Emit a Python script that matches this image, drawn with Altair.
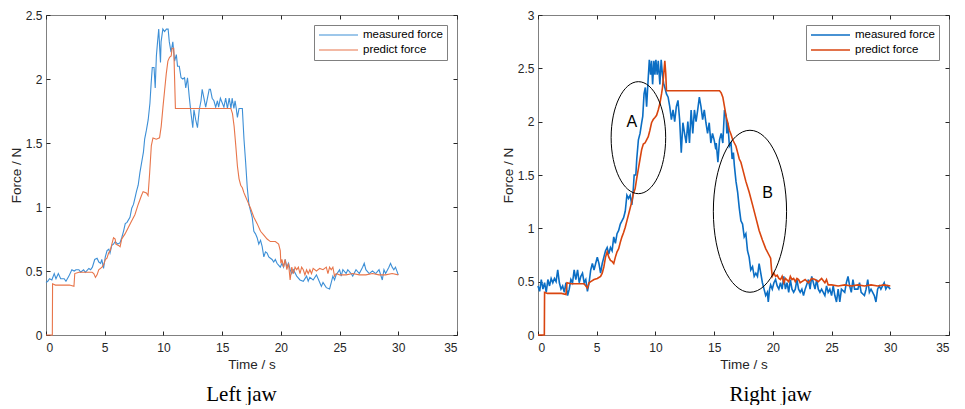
import altair as alt
import pandas as pd

X_TICKS = [0, 5, 10, 15, 20, 25, 30, 35]
Y_TICKS_LEFT = [0, 0.5, 1, 1.5, 2, 2.5]
Y_TICKS_RIGHT = [0, 0.5, 1, 1.5, 2, 2.5, 3]
SERIES = ["measured force", "predict force"]
PANEL_TITLES = ["Left jaw", "Right jaw"]

LEFT_MEASURED = [
    (0.0, 0.41), (0.15, 0.42), (0.3, 0.44), (0.5, 0.43), (0.7, 0.48), (0.85, 0.44), (1.05, 0.48),
    (1.25, 0.44), (1.55, 0.44), (1.7, 0.42), (1.95, 0.46), (2.2, 0.51), (2.4, 0.50), (2.55, 0.51),
    (2.8, 0.51), (2.95, 0.49), (3.2, 0.51), (3.35, 0.49), (3.65, 0.52), (3.8, 0.51), (3.95, 0.53),
    (4.15, 0.59), (4.35, 0.60), (4.5, 0.57), (4.65, 0.56), (4.75, 0.59), (4.9, 0.52), (5.05, 0.61),
    (5.2, 0.66), (5.35, 0.67), (5.45, 0.64), (5.6, 0.70), (5.75, 0.71), (5.9, 0.73), (6.1, 0.71),
    (6.3, 0.72), (6.45, 0.76), (6.6, 0.81), (6.75, 0.87), (6.9, 0.88), (7.15, 0.92), (7.3, 0.99),
    (7.45, 1.02), (7.6, 1.08), (7.7, 1.12), (7.85, 1.17), (8.0, 1.27), (8.15, 1.35), (8.3, 1.43),
    (8.4, 1.53), (8.55, 1.60), (8.7, 1.68), (8.85, 1.81), (8.95, 1.96), (9.05, 2.09), (9.2, 2.09),
    (9.3, 1.93), (9.4, 2.18), (9.5, 2.29), (9.6, 2.39), (9.7, 2.21), (9.75, 2.13), (9.8, 2.29),
    (9.95, 2.39), (10.1, 2.37), (10.25, 2.39), (10.4, 2.39), (10.5, 2.29), (10.65, 2.21), (10.8, 2.29),
    (10.95, 2.14), (11.1, 2.19), (11.2, 2.10), (11.35, 2.10), (11.5, 2.01), (11.65, 2.00), (11.8, 2.01),
    (11.9, 1.93), (12.05, 2.01), (12.2, 1.86), (12.35, 1.73), (12.5, 1.62), (12.6, 1.76), (12.75, 1.68),
    (12.9, 1.62), (13.05, 1.76), (13.2, 1.83), (13.3, 1.92), (13.45, 1.85), (13.6, 1.78), (13.75, 1.85),
    (13.9, 1.92), (14.0, 1.92), (14.15, 1.85), (14.3, 1.83), (14.45, 1.78), (14.6, 1.83), (14.7, 1.78),
    (14.85, 1.85), (15.15, 1.78), (15.3, 1.85), (15.45, 1.77), (15.6, 1.85), (15.75, 1.77), (15.85, 1.85),
    (16.0, 1.77), (16.1, 1.83), (16.2, 1.77), (16.3, 1.70), (16.44, 1.77), (16.72, 1.77), (16.86, 1.53),
    (17.0, 1.35), (17.14, 1.15), (17.28, 1.02), (17.42, 0.97), (17.56, 0.92), (17.7, 0.81), (17.84, 0.79),
    (17.98, 0.76), (18.12, 0.71), (18.27, 0.74), (18.41, 0.69), (18.55, 0.61), (18.69, 0.65), (18.83, 0.64),
    (18.97, 0.61), (19.11, 0.60), (19.25, 0.59), (19.39, 0.57), (19.53, 0.59), (19.67, 0.56), (19.95, 0.53),
    (20.09, 0.56), (20.23, 0.53), (20.37, 0.59), (20.51, 0.53), (20.65, 0.56), (20.79, 0.51), (20.93, 0.48),
    (21.07, 0.51), (21.35, 0.46), (21.63, 0.43), (21.91, 0.42), (22.19, 0.46), (22.33, 0.42), (22.47, 0.45),
    (22.75, 0.43), (23.03, 0.47), (23.31, 0.41), (23.45, 0.38), (23.59, 0.41), (23.87, 0.37), (24.15, 0.36),
    (24.29, 0.41), (24.43, 0.46), (24.57, 0.43), (24.71, 0.47), (25.0, 0.51), (25.14, 0.46), (25.28, 0.51),
    (25.56, 0.48), (25.7, 0.51), (25.98, 0.48), (26.12, 0.46), (26.4, 0.51), (26.68, 0.48), (26.96, 0.53),
    (27.1, 0.56), (27.24, 0.51), (27.52, 0.48), (27.8, 0.50), (28.08, 0.48), (28.36, 0.51), (28.64, 0.43),
    (28.78, 0.51), (28.92, 0.48), (29.2, 0.53), (29.34, 0.56), (29.48, 0.53), (29.62, 0.51), (29.76, 0.53),
    (30.0, 0.47),
]

LEFT_PREDICT = [
    (0.0, 0.0), (0.54, 0.0), (0.56, 0.40), (0.8, 0.39), (1.5, 0.39), (2.0, 0.39), (2.38, 0.38),
    (2.45, 0.48), (2.8, 0.49), (3.3, 0.49), (3.93, 0.49), (4.07, 0.48), (4.21, 0.45), (4.35, 0.47),
    (4.49, 0.51), (4.77, 0.53), (4.91, 0.55), (5.05, 0.59), (5.19, 0.60), (5.33, 0.64), (5.47, 0.66),
    (5.61, 0.71), (5.75, 0.76), (5.89, 0.75), (5.95, 0.71), (6.17, 0.70), (6.31, 0.69), (6.45, 0.75),
    (6.73, 0.79), (7.01, 0.84), (7.29, 0.89), (7.57, 0.94), (7.85, 1.02), (8.13, 1.09), (8.27, 1.12),
    (8.55, 1.11), (8.69, 1.09), (8.83, 1.27), (8.97, 1.48), (9.11, 1.54), (9.39, 1.53), (9.67, 1.54),
    (9.81, 1.63), (9.96, 1.78), (10.1, 1.91), (10.24, 2.04), (10.38, 2.14), (10.52, 2.17), (10.66, 2.18),
    (10.74, 2.24), (10.88, 2.24), (10.94, 2.04), (11.02, 1.77), (15.74, 1.77), (15.88, 1.73), (16.02, 1.63),
    (16.16, 1.48), (16.3, 1.32), (16.44, 1.22), (16.58, 1.17), (16.72, 1.15), (16.86, 1.11), (17.0, 1.08),
    (17.14, 1.05), (17.42, 0.99), (17.7, 0.92), (17.98, 0.87), (18.27, 0.81), (18.55, 0.78), (18.83, 0.75),
    (19.11, 0.73), (19.53, 0.73), (19.81, 0.71), (19.95, 0.66), (20.0, 0.56), (20.09, 0.59), (20.23, 0.53),
    (20.37, 0.59), (20.51, 0.51), (20.65, 0.56), (20.79, 0.43), (20.93, 0.53), (21.07, 0.48), (21.21, 0.53),
    (21.35, 0.51), (21.49, 0.53), (21.63, 0.48), (21.77, 0.53), (21.91, 0.51), (22.05, 0.47), (22.19, 0.51),
    (22.33, 0.48), (22.47, 0.51), (22.61, 0.48), (22.75, 0.52), (23.03, 0.50), (23.31, 0.52), (23.59, 0.51),
    (23.87, 0.53), (24.01, 0.48), (24.15, 0.53), (24.29, 0.51), (24.43, 0.53), (24.57, 0.46), (24.71, 0.48),
    (25.0, 0.47), (25.56, 0.47), (26.12, 0.48), (26.68, 0.47), (27.24, 0.47), (27.8, 0.48), (28.36, 0.47),
    (28.92, 0.47), (29.48, 0.48), (30.0, 0.47),
]

RIGHT_MEASURED = [
    (0.0, 0.46), (0.14, 0.41), (0.28, 0.52), (0.42, 0.43), (0.56, 0.49), (0.7, 0.40), (0.84, 0.52),
    (0.98, 0.46), (1.12, 0.53), (1.26, 0.49), (1.4, 0.53), (1.54, 0.50), (1.68, 0.61), (1.82, 0.49),
    (1.96, 0.43), (2.1, 0.46), (2.24, 0.40), (2.38, 0.49), (2.52, 0.37), (2.66, 0.43), (2.8, 0.52),
    (2.94, 0.49), (3.08, 0.61), (3.22, 0.52), (3.37, 0.61), (3.51, 0.49), (3.65, 0.55), (3.79, 0.58),
    (3.93, 0.49), (4.07, 0.52), (4.21, 0.41), (4.35, 0.49), (4.49, 0.61), (4.63, 0.67), (4.77, 0.61),
    (4.91, 0.67), (5.05, 0.73), (5.19, 0.67), (5.33, 0.58), (5.47, 0.67), (5.61, 0.73), (5.75, 0.79),
    (5.89, 0.82), (6.03, 0.76), (6.17, 0.82), (6.31, 0.79), (6.45, 0.92), (6.59, 0.86), (6.73, 0.95),
    (6.87, 0.98), (7.01, 1.04), (7.15, 1.07), (7.29, 1.10), (7.43, 1.16), (7.57, 1.31), (7.71, 1.28),
    (7.85, 1.31), (7.99, 1.22), (8.08, 1.31), (8.19, 1.50), (8.33, 1.50), (8.41, 1.65), (8.55, 1.83),
    (8.69, 1.89), (8.83, 1.99), (8.92, 2.05), (9.03, 2.26), (9.14, 2.32), (9.25, 2.14), (9.34, 2.32),
    (9.48, 2.58), (9.59, 2.44), (9.67, 2.57), (9.76, 2.35), (9.87, 2.57), (9.96, 2.44), (10.04, 2.58),
    (10.15, 2.44), (10.24, 2.57), (10.38, 2.35), (10.49, 2.58), (10.6, 2.44), (10.71, 2.35), (10.8, 2.32),
    (10.94, 2.26), (11.08, 2.23), (11.22, 2.14), (11.36, 2.02), (11.5, 2.11), (11.64, 2.00), (11.78, 2.14),
    (11.92, 2.20), (12.06, 2.02), (12.2, 1.71), (12.34, 1.99), (12.48, 1.89), (12.62, 1.80), (12.76, 2.00),
    (12.9, 1.80), (13.04, 2.11), (13.18, 1.89), (13.32, 2.11), (13.46, 2.00), (13.6, 2.11), (13.74, 2.23),
    (13.88, 2.14), (14.02, 2.02), (14.16, 2.11), (14.3, 1.99), (14.44, 1.89), (14.58, 1.99), (14.72, 1.80),
    (14.86, 1.89), (15.0, 1.83), (15.14, 1.74), (15.18, 1.80), (15.32, 1.62), (15.46, 1.83), (15.6, 1.89),
    (15.74, 1.80), (15.88, 2.11), (16.02, 2.05), (16.08, 1.89), (16.16, 1.99), (16.3, 1.77), (16.44, 1.80),
    (16.53, 1.65), (16.64, 1.71), (16.72, 1.59), (16.86, 1.44), (17.0, 1.34), (17.14, 1.19), (17.28, 1.07),
    (17.42, 1.04), (17.56, 0.92), (17.7, 0.95), (17.84, 0.79), (17.98, 0.73), (18.12, 0.61), (18.27, 0.64),
    (18.41, 0.55), (18.55, 0.58), (18.69, 0.55), (18.83, 0.67), (18.97, 0.58), (19.11, 0.49), (19.25, 0.43),
    (19.39, 0.37), (19.53, 0.40), (19.61, 0.31), (19.72, 0.43), (19.81, 0.47), (19.95, 0.43), (20.09, 0.49),
    (20.23, 0.52), (20.37, 0.46), (20.51, 0.43), (20.65, 0.49), (20.79, 0.43), (20.93, 0.55), (21.07, 0.43),
    (21.21, 0.49), (21.35, 0.40), (21.49, 0.52), (21.63, 0.43), (21.77, 0.40), (21.91, 0.43), (22.05, 0.52),
    (22.19, 0.43), (22.33, 0.40), (22.47, 0.43), (22.61, 0.37), (22.75, 0.43), (23.03, 0.52), (23.17, 0.43),
    (23.31, 0.55), (23.45, 0.49), (23.59, 0.43), (23.73, 0.52), (23.87, 0.43), (24.01, 0.40), (24.15, 0.43),
    (24.29, 0.40), (24.43, 0.37), (24.57, 0.46), (24.71, 0.40), (24.85, 0.43), (25.0, 0.37), (25.14, 0.46),
    (25.28, 0.37), (25.42, 0.31), (25.56, 0.43), (25.7, 0.31), (25.84, 0.43), (26.12, 0.40), (26.26, 0.49),
    (26.4, 0.55), (26.54, 0.46), (26.68, 0.40), (26.82, 0.52), (26.96, 0.43), (27.24, 0.43), (27.38, 0.49),
    (27.52, 0.40), (27.8, 0.37), (27.94, 0.43), (28.08, 0.52), (28.22, 0.40), (28.36, 0.43), (28.64, 0.37),
    (28.78, 0.31), (28.92, 0.43), (29.06, 0.46), (29.2, 0.43), (29.48, 0.49), (29.62, 0.43), (29.76, 0.46),
    (30.0, 0.43),
]

RIGHT_PREDICT = [
    (0.0, 0.0), (0.54, 0.0), (0.56, 0.40), (0.8, 0.39), (1.5, 0.39), (2.0, 0.39), (2.38, 0.38),
    (2.47, 0.49), (2.8, 0.48), (3.4, 0.48), (3.93, 0.48), (4.07, 0.46), (4.21, 0.44), (4.35, 0.49),
    (4.49, 0.50), (4.77, 0.52), (5.05, 0.53), (5.33, 0.55), (5.47, 0.58), (5.61, 0.64), (5.75, 0.73),
    (5.89, 0.78), (6.03, 0.73), (6.17, 0.70), (6.31, 0.69), (6.45, 0.67), (6.59, 0.73), (6.73, 0.78),
    (6.87, 0.81), (7.01, 0.87), (7.15, 0.92), (7.29, 0.96), (7.43, 1.01), (7.57, 1.07), (7.71, 1.13),
    (7.85, 1.19), (7.99, 1.25), (8.13, 1.33), (8.27, 1.37), (8.41, 1.47), (8.55, 1.56), (8.69, 1.65),
    (8.83, 1.74), (8.97, 1.79), (9.11, 1.80), (9.25, 1.83), (9.39, 1.86), (9.53, 1.92), (9.67, 1.99),
    (9.81, 2.02), (9.96, 2.04), (10.1, 2.06), (10.24, 2.11), (10.38, 2.17), (10.52, 2.26), (10.6, 2.32),
    (10.71, 2.45), (10.8, 2.57), (10.88, 2.45), (10.94, 2.29), (15.46, 2.29), (15.6, 2.27), (15.74, 2.23),
    (15.88, 2.14), (16.02, 2.05), (16.16, 1.99), (16.3, 1.92), (16.44, 1.88), (16.58, 1.83), (16.72, 1.80),
    (16.86, 1.77), (17.0, 1.71), (17.14, 1.65), (17.28, 1.62), (17.42, 1.56), (17.7, 1.44), (17.98, 1.34),
    (18.27, 1.22), (18.55, 1.10), (18.83, 0.98), (19.11, 0.89), (19.39, 0.81), (19.67, 0.75), (19.81, 0.72),
    (19.89, 0.61), (19.95, 0.55), (20.09, 0.58), (20.23, 0.55), (20.37, 0.56), (20.51, 0.53), (20.65, 0.52),
    (20.79, 0.55), (20.93, 0.49), (21.07, 0.53), (21.35, 0.50), (21.49, 0.55), (21.63, 0.52), (21.77, 0.53),
    (21.91, 0.50), (22.05, 0.53), (22.19, 0.52), (22.33, 0.49), (22.47, 0.50), (22.75, 0.52), (23.03, 0.49),
    (23.31, 0.53), (23.59, 0.52), (23.87, 0.50), (24.15, 0.53), (24.43, 0.49), (24.57, 0.52), (24.71, 0.47),
    (25.0, 0.47), (25.56, 0.46), (26.12, 0.47), (26.68, 0.46), (27.24, 0.47), (27.8, 0.46), (28.36, 0.47),
    (28.92, 0.46), (29.48, 0.47), (30.0, 0.46),
]

ANNOT_LABELS = ["A", "B"]
ANNOT_TIME = [8.0, 19.55]
ANNOT_FORCE = [2.0, 1.33]
ELLIPSE_TIME = [8.55, 18.05]
ELLIPSE_FORCE = [1.85, 1.16]

W, H = 411, 320
FONT = "Liberation Sans"
AXIS_COLOR = "#262626"
BOX_COLOR = "#808080"


def frame(pairs, name):
    return pd.DataFrame({"t": [p[0] for p in pairs], "f": [p[1] for p in pairs], "series": name})


def ellipse_path(rx):
    k = 0.5523
    return (f"M{rx:.4f},0 C{rx:.4f},{k} {k*rx:.4f},1 0,1 "
            f"C{-k*rx:.4f},1 {-rx:.4f},{k} {-rx:.4f},0 "
            f"C{-rx:.4f},{-k} {-k*rx:.4f},-1 0,-1 "
            f"C{k*rx:.4f},-1 {rx:.4f},{-k} {rx:.4f},0 Z")


def panel(measured, predict, yticks, colors, sw, title, title_dx, annotate=False):
    df = pd.concat([frame(measured, SERIES[0]), frame(predict, SERIES[1])], ignore_index=True)
    xs = alt.Scale(domain=[0, 35], nice=False, zero=False)
    ys = alt.Scale(domain=[0, yticks[-1]], nice=False, zero=False)

    label_x = alt.Axis(orient="bottom", values=X_TICKS, format="~g", ticks=False, tickSize=0,
                       domain=False, grid=False, labelPadding=7, title="Time / s", titlePadding=4)
    label_y = alt.Axis(orient="left", values=yticks, format="~g", ticks=False, tickSize=0,
                       domain=False, grid=False, labelPadding=4, title="Force / N", titlePadding=2)

    def tick_axis(orient, vals, offset):
        return alt.Axis(orient=orient, offset=offset, values=vals, labels=False, domain=False,
                        grid=False, ticks=True, tickSize=4, tickColor=AXIS_COLOR, tickWidth=1,
                        title=None)

    lines = alt.Chart(df).mark_line(strokeWidth=sw).encode(
        x=alt.X("t:Q", scale=xs, axis=label_x),
        y=alt.Y("f:Q", scale=ys, axis=label_y),
        color=alt.Color(
            "series:N",
            scale=alt.Scale(domain=SERIES, range=colors),
            legend=alt.Legend(orient="top-right", offset=10, title=None, symbolType="stroke",
                              symbolSize=1521, symbolStrokeWidth=sw, labelFont=FONT,
                              labelFontSize=11.5, labelColor="black", strokeColor=BOX_COLOR,
                              fillColor="white", padding=4, rowPadding=3, labelOffset=4,
                              clipHeight=12, cornerRadius=0),
        ),
    )
    base = frame(measured, SERIES[0])
    ticks_a = alt.Chart(base).mark_line(strokeOpacity=0).encode(
        x=alt.X("t:Q", scale=xs, axis=tick_axis("top", X_TICKS, -H)),
        y=alt.Y("f:Q", scale=ys, axis=tick_axis("right", yticks, -W)),
    )
    ticks_b = alt.Chart(base).mark_line(strokeOpacity=0).encode(
        x=alt.X("t:Q", scale=xs, axis=tick_axis("bottom", X_TICKS, -H)),
        y=alt.Y("f:Q", scale=ys, axis=tick_axis("left", yticks, -W)),
    )
    layers = [lines, ticks_a, ticks_b]

    if annotate:
        ann = pd.DataFrame({"t": ANNOT_TIME, "f": ANNOT_FORCE, "label": ANNOT_LABELS})
        layers.append(
            alt.Chart(ann).mark_text(font=FONT, fontSize=16, color="black").encode(
                x=alt.X("t:Q", scale=xs, axis=None),
                y=alt.Y("f:Q", scale=ys, axis=None),
                text="label:N",
            )
        )
        ell_shapes = [(ellipse_path(0.487), 12544), (ellipse_path(0.452), 26244)]
        for i, (shape, size) in enumerate(ell_shapes):
            e = pd.DataFrame({"t": [ELLIPSE_TIME[i]], "f": [ELLIPSE_FORCE[i]]})
            layers.append(
                alt.Chart(e).mark_point(shape=shape, size=size, filled=False, color="black",
                                        strokeWidth=1, opacity=1).encode(
                    x=alt.X("t:Q", scale=xs, axis=None),
                    y=alt.Y("f:Q", scale=ys, axis=None),
                )
            )

    return alt.layer(*layers).resolve_axis(x="independent", y="independent").properties(
        width=W,
        height=H,
        title=alt.TitleParams(text=title, orient="bottom", anchor="middle", frame="group",
                              font="Liberation Serif", fontSize=21, fontWeight="normal",
                              color="black", offset=13, dx=title_dx),
    )


left = panel(LEFT_MEASURED, LEFT_PREDICT, Y_TICKS_LEFT, ["#3D8FD6", "#E8754A"], 1.1,
             PANEL_TITLES[0], -10)
right = panel(RIGHT_MEASURED, RIGHT_PREDICT, Y_TICKS_RIGHT, ["#0B6EC4", "#D9450F"], 1.6,
              PANEL_TITLES[1], 27, annotate=True)

chart = (
    alt.hconcat(left, right, spacing=42)
    .resolve_scale(color="independent")
    .resolve_legend(color="independent")
    .configure_view(stroke=BOX_COLOR, strokeWidth=1)
    .configure_axis(labelFont=FONT, labelFontSize=12, labelColor=AXIS_COLOR, titleFont=FONT,
                    titleFontSize=13.5, titleFontWeight="normal", titleColor=AXIS_COLOR)
    .properties(padding={"left": 0, "top": 0, "right": 0, "bottom": 0}, background="white")
)

chart.save("out.html", embed_options={"renderer": "svg", "actions": False})
